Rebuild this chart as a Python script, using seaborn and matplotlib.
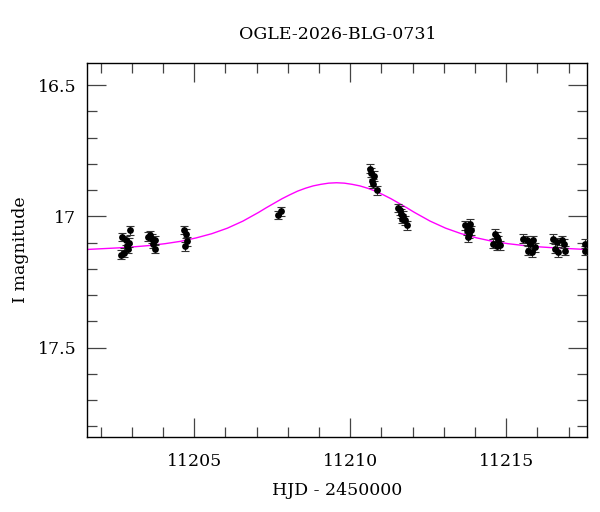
import numpy as np
import pandas as pd
import matplotlib
matplotlib.use("Agg")
import matplotlib.pyplot as plt
import seaborn as sns
from matplotlib.ticker import MultipleLocator, FixedLocator, FixedFormatter

# ---- data ----
obs_hjd = [11202.65, 11202.69, 11202.74, 11202.80, 11202.86, 11202.90, 11202.94, 11202.84,
           11203.52, 11203.58, 11203.63, 11203.68, 11203.74, 11203.74,
           11204.67, 11204.70, 11204.73, 11204.78,
           11207.70, 11207.79,
           11210.63, 11210.68, 11210.75, 11210.71, 11210.73, 11210.85,
           11211.54, 11211.59, 11211.64, 11211.69, 11211.67, 11211.75, 11211.83,
           11213.68, 11213.79, 11213.84, 11213.73, 11213.80, 11213.86, 11213.76,
           11214.64, 11214.69, 11214.74, 11214.58, 11214.80, 11214.69,
           11215.55, 11215.66, 11215.77, 11215.71, 11215.82, 11215.87, 11215.92,
           11216.51, 11216.62, 11216.56, 11216.65, 11216.78, 11216.86, 11216.90,
           11217.52, 11217.53]
obs_mag = [17.146, 17.079, 17.138, 17.091, 17.123, 17.100, 17.053, 17.112,
           17.077, 17.072, 17.085, 17.104, 17.091, 17.123,
           17.053, 17.113, 17.066, 17.095,
           16.995, 16.981,
           16.818, 16.834, 16.847, 16.867, 16.875, 16.901,
           16.968, 16.977, 16.990, 16.999, 17.009, 17.015, 17.034,
           17.034, 17.041, 17.028, 17.053, 17.066, 17.053, 17.079,
           17.066, 17.079, 17.091, 17.104, 17.110, 17.112,
           17.085, 17.091, 17.104, 17.130, 17.136, 17.091, 17.117,
           17.085, 17.098, 17.123, 17.136, 17.091, 17.104, 17.130,
           17.104, 17.130]
obs_err = [0.018, 0.016, 0.017, 0.017, 0.018, 0.017, 0.018, 0.017,
           0.017, 0.016, 0.017, 0.018, 0.017, 0.017,
           0.016, 0.017, 0.017, 0.017,
           0.016, 0.016,
           0.017, 0.017, 0.018, 0.017, 0.017, 0.018,
           0.017, 0.017, 0.017, 0.018, 0.017, 0.017, 0.018,
           0.017, 0.017, 0.018, 0.017, 0.017, 0.017, 0.017,
           0.017, 0.018, 0.017, 0.017, 0.017, 0.017,
           0.017, 0.017, 0.018, 0.017, 0.017, 0.018, 0.017,
           0.017, 0.017, 0.017, 0.018, 0.017, 0.017, 0.017,
           0.017, 0.017]

model_hjd = [11201.06, 11201.56, 11202.06, 11202.56, 11203.06, 11203.56, 11204.06, 11204.56,
             11205.06, 11205.56, 11206.06, 11206.56, 11207.06, 11207.31, 11207.56, 11207.81,
             11208.06, 11208.31, 11208.56, 11208.81, 11209.06, 11209.31, 11209.56, 11209.81,
             11210.06, 11210.31, 11210.56, 11210.81, 11211.06, 11211.31, 11211.56, 11211.81,
             11212.06, 11212.56, 11213.06, 11213.56, 11214.06, 11214.56, 11215.06, 11215.56,
             11216.06, 11216.56, 11217.06, 11217.56, 11218.06]
model_mag = [17.128, 17.126, 17.123, 17.120, 17.116, 17.111, 17.104, 17.095,
             17.082, 17.066, 17.045, 17.018, 16.985, 16.967, 16.950, 16.933,
             16.918, 16.904, 16.893, 16.884, 16.878, 16.8735, 16.872, 16.8735,
             16.878, 16.884, 16.893, 16.904, 16.918, 16.933, 16.950, 16.967,
             16.985, 17.018, 17.045, 17.066, 17.082, 17.095, 17.104, 17.111,
             17.116, 17.120, 17.123, 17.126, 17.128]

title = "OGLE-2026-BLG-0731"
xlabel = "HJD - 2450000"
ylabel = "I magnitude"
ytick_vals = [16.5, 17.0, 17.5]
ytick_labels = ["16.5", "17", "17.5"]
xtick_vals = [11205, 11210, 11215]
xtick_labels = ["11205", "11210", "11215"]

obs = pd.DataFrame({"hjd": obs_hjd, "mag": obs_mag, "err": obs_err})
model = pd.DataFrame({"hjd": model_hjd, "mag": model_mag})

sns.set_theme(style="ticks")
plt.rcParams["font.family"] = ["DejaVu Serif"]
plt.rcParams["text.color"] = "black"
plt.rcParams["axes.labelcolor"] = "black"
plt.rcParams["xtick.labelcolor"] = "black"
plt.rcParams["ytick.labelcolor"] = "black"

fig = plt.figure(figsize=(6, 5.12), dpi=100)
ax = fig.add_axes([0.1455, 0.147, 0.8333, 0.7305])

sns.lineplot(data=model, x="hjd", y="mag", ax=ax, color="#ff00ff", lw=1.0,
             sort=False, estimator=None, zorder=2)
ax.errorbar(obs["hjd"], obs["mag"], yerr=obs["err"], fmt="none",
            ecolor="#333333", elinewidth=0.8, capsize=3, capthick=0.8, zorder=3)
sns.scatterplot(data=obs, x="hjd", y="mag", ax=ax, color="black", s=24,
                edgecolor="black", linewidth=0, zorder=4)

ax.set_xlim(11201.57, 11217.6)
ax.set_ylim(17.839, 16.415)

ax.xaxis.set_major_locator(FixedLocator(xtick_vals))
ax.xaxis.set_major_formatter(FixedFormatter(xtick_labels))
ax.xaxis.set_minor_locator(MultipleLocator(1))
ax.yaxis.set_major_locator(FixedLocator(ytick_vals))
ax.yaxis.set_major_formatter(FixedFormatter(ytick_labels))
ax.yaxis.set_minor_locator(MultipleLocator(0.1))

ax.tick_params(which="both", direction="in", top=True, right=True,
               color="#444444", width=0.9, labelcolor="black")
ax.tick_params(which="major", length=14, labelsize=12.5, pad=8)
ax.tick_params(which="minor", length=7)
ax.tick_params(axis="x", which="major", pad=12)

for s in ax.spines.values():
    s.set_color("black")
    s.set_linewidth(1.0)

ax.set_xlabel(xlabel, fontsize=12.5, labelpad=8, color="black")
ax.set_ylabel(ylabel, fontsize=12.5, labelpad=6, color="black")
ax.set_title(title, fontsize=12.5, pad=17, color="black")

fig.savefig("out.png", dpi=100)
